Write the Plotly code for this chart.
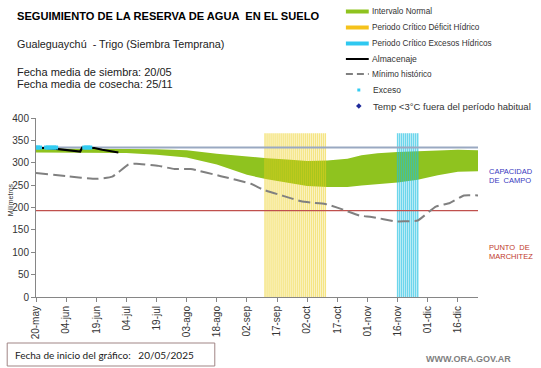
import datetime as dt
import plotly.graph_objects as go

# ---------------- data ----------------
START_DATE = "2025-05-20"
END_DAY = 220  # axis end, days after start

TICK_LABELS = ["20-may", "04-jun", "19-jun", "04-jul", "19-jul", "03-ago", "18-ago",
               "02-sep", "17-sep", "02-oct", "17-oct", "01-nov", "16-nov", "01-dic", "16-dic"]
TICK_DAYS = [0, 15, 30, 45, 60, 75, 90, 105, 120, 135, 150, 165, 180, 195, 210]

# Intervalo normal (green band)
BAND_DAYS = [0, 15, 30, 45, 60, 75, 90, 105, 115, 125, 135, 145, 155, 162, 170, 180, 190, 200, 210, 220]
BAND_TOP = [332, 332, 332, 331, 330, 328, 320, 313, 310, 307, 304, 305, 309, 317, 321, 324, 326, 328, 329, 328]
BAND_BOTTOM = [323, 323, 323, 322, 318, 312, 296, 273, 263, 256, 248, 246, 246, 249, 252, 256, 262, 272, 280, 281]

# Mínimo histórico
MIN_DAYS = [0, 15, 30, 38, 46, 50, 61, 69, 77, 92, 107, 113, 123, 132, 137, 144, 153, 161, 167, 179, 183, 190, 199, 206, 213, 220]
MIN_VALUES = [277, 270, 264, 269, 296, 298, 293, 286, 286, 270, 253, 240, 226, 214, 211, 208, 195, 182, 179, 169, 169, 171, 202, 210, 227, 227]

# Almacenaje
ALM_DAYS = [0, 5, 10, 15, 20, 22, 23, 25, 29, 33, 37, 41]
ALM_VALUES = [333, 333, 331, 329, 327, 325, 334, 334, 333, 329, 326, 323]

# Exceso points
EXC_DAYS = [0, 1, 2, 5, 6, 7, 8, 9, 10, 24, 25, 26, 27]
EXC_VALUES = [334, 334, 334, 334, 334, 334, 334, 334, 334, 334, 334, 334, 334]

# Critical periods (one stripe per day)
DEFICIT_DAYS = [114, 115, 116, 117, 118, 119, 120, 121, 122, 123, 124, 125, 126, 127, 128, 129,
                130, 131, 132, 133, 134, 135, 136, 137, 138, 139, 140, 141, 142, 143, 144]
EXCESS_DAYS = [180, 181, 182, 183, 184, 185, 186, 187, 188, 189, 190]
PERIOD_TOP = 366

CAPACIDAD = 334
MARCHITEZ = 193

# ---------------- helpers ----------------
start = dt.date.fromisoformat(START_DATE)


def to_dates(days):
    return [(start + dt.timedelta(days=d)).isoformat() for d in days]


def stripes(days, top):
    xs, ys = [], []
    for dd in to_dates(days):
        xs += [dd, dd, None]
        ys += [0, top, None]
    return xs, ys


FONT = "Liberation Sans, Arial, sans-serif"
W, H = 541, 368
ML, MR, MT, MB = 33, 63, 118, 71
X0, X1 = ML, W - MR
Y0, Y1 = MT, H - MB


def px(x):
    return (x - X0) / (X1 - X0)


def py(y):
    return (Y1 - y) / (Y1 - Y0)


fig = go.Figure()

# green band
fig.add_trace(go.Scatter(x=to_dates(BAND_DAYS), y=BAND_TOP, mode="lines",
                         line=dict(width=0, color="#8FC31F"), hoverinfo="skip"))
fig.add_trace(go.Scatter(x=to_dates(BAND_DAYS), y=BAND_BOTTOM, mode="lines",
                         line=dict(width=0, color="#8FC31F"), fill="tonexty",
                         fillcolor="#8FC31F", hoverinfo="skip"))

# critical period stripes
sx, sy = stripes(DEFICIT_DAYS, PERIOD_TOP)
fig.add_trace(go.Scatter(x=sx, y=sy, mode="lines", connectgaps=False,
                         line=dict(color="rgba(236,208,30,0.55)", width=1.5)))
sx, sy = stripes(EXCESS_DAYS, PERIOD_TOP)
fig.add_trace(go.Scatter(x=sx, y=sy, mode="lines", connectgaps=False,
                         line=dict(color="rgba(30,192,226,0.65)", width=1.5)))

# reference lines
axis_span = to_dates([0, END_DAY])
fig.add_trace(go.Scatter(x=axis_span, y=[CAPACIDAD, CAPACIDAD], mode="lines",
                         line=dict(color="#9AA9C2", width=2)))
fig.add_trace(go.Scatter(x=axis_span, y=[MARCHITEZ, MARCHITEZ], mode="lines",
                         line=dict(color="#C0504D", width=1.2)))

# mínimo histórico
fig.add_trace(go.Scatter(x=to_dates(MIN_DAYS), y=MIN_VALUES, mode="lines",
                         line=dict(color="#808080", width=2, dash="12px,5px", shape="spline",
                                   smoothing=0.4)))
# almacenaje
fig.add_trace(go.Scatter(x=to_dates(ALM_DAYS), y=ALM_VALUES, mode="lines",
                         line=dict(color="#000000", width=2.2)))
# exceso
fig.add_trace(go.Scatter(x=to_dates(EXC_DAYS), y=EXC_VALUES, mode="markers",
                         marker=dict(symbol="square", size=4, color="#33CCF2")))

# ---------------- layout ----------------
fig.update_layout(
    width=W, height=H,
    margin=dict(l=ML, r=MR, t=MT, b=MB),
    paper_bgcolor="white", plot_bgcolor="white",
    showlegend=False,
    font=dict(family=FONT, color="#333333", size=10),
)
fig.update_xaxes(
    type="date", range=to_dates([0, END_DAY]),
    tickvals=to_dates(TICK_DAYS), ticktext=TICK_LABELS, tickangle=-90,
    showgrid=False, zeroline=False, showline=True, linecolor="#868686", linewidth=1,
    ticks="outside", ticklen=4, tickcolor="#868686",
    tickfont=dict(size=10, color="#333333"),
)
fig.update_yaxes(
    range=[0, 400], tickvals=[0, 50, 100, 150, 200, 250, 300, 350, 400],
    showgrid=False, zeroline=False, showline=True, linecolor="#868686", linewidth=1,
    ticks="outside", ticklen=4, tickcolor="#868686",
    tickfont=dict(size=10, color="#333333"),
)

ann = []


def text(x, y, s, size, color="#333333", bold=False, xanchor="left", family=FONT, angle=0):
    ann.append(dict(x=px(x), y=py(y), xref="paper", yref="paper", text=("<b>%s</b>" % s) if bold else s,
                    showarrow=False, xanchor=xanchor, yanchor="middle", textangle=angle,
                    font=dict(size=size, color=color, family=family)))


text(12, 15.5, "SEGUIMIENTO DE LA RESERVA DE AGUA  EN EL SUELO", 11.1, color="#000000", bold=True)
text(12, 44, "Gualeguaychú  - Trigo (Siembra Temprana)", 10.8, color="#222222")
text(12, 72, "Fecha media de siembra: 20/05", 11, color="#222222")
text(12, 84, "Fecha media de cosecha: 25/11", 11, color="#222222")

text(7, 200, "Milímetros", 7, color="#333333", xanchor="center", angle=-90)

text(487, 171, "CAPACIDAD", 7.5, color="#3838C0")
text(487, 180, "DE  CAMPO", 7.5, color="#3838C0")
text(487, 247, "PUNTO  DE", 7.5, color="#C0392B")
text(487, 256, "MARCHITEZ", 7.5, color="#C0392B")

# legend
LEG_Y = [11.5, 27.5, 43.5, 59, 74, 90, 106]
LEG_TXT = ["Intervalo Normal", "Periodo Crítico Déficit Hídrico", "Periodo Crítico Excesos Hídricos",
           "Almacenaje", "Mínimo histórico", "Exceso", "Temp <3°C fuera del período habitual"]
LEG_SIZE = [8.2, 8.2, 8.2, 8.6, 8.2, 8.5, 9.5]
LEG_X = [369, 369, 369, 369, 369, 370, 370]
for yy, tt, ss, xx in zip(LEG_Y, LEG_TXT, LEG_SIZE, LEG_X):
    text(xx, yy, tt, ss, color="#333333")

shapes = []
for yy, col in zip(LEG_Y[:3], ["#8FC31F", "#F5C21B", "#2FC8F0"]):
    shapes.append(dict(type="rect", xref="paper", yref="paper", x0=px(345), x1=px(368),
                       y0=py(yy + 2), y1=py(yy - 2), fillcolor=col, line=dict(width=0)))
shapes.append(dict(type="line", xref="paper", yref="paper", x0=px(345), x1=px(368),
                   y0=py(LEG_Y[3]), y1=py(LEG_Y[3]), line=dict(color="#000000", width=2)))
shapes.append(dict(type="line", xref="paper", yref="paper", x0=px(345), x1=px(368),
                   y0=py(LEG_Y[4]), y1=py(LEG_Y[4]), line=dict(color="#808080", width=2, dash="7px,4px")))
shapes.append(dict(type="rect", xref="paper", yref="paper", x0=px(356.5), x1=px(359.5),
                   y0=py(LEG_Y[5] + 1.5), y1=py(LEG_Y[5] - 1.5), fillcolor="#33CCF2", line=dict(width=0)))
d = 2.8
shapes.append(dict(type="path", xref="paper", yref="paper",
                   path="M %f %f L %f %f L %f %f L %f %f Z" % (
                       px(358), py(LEG_Y[6] - d), px(358 + d), py(LEG_Y[6]),
                       px(358), py(LEG_Y[6] + d), px(358 - d), py(LEG_Y[6])),
                   fillcolor="#1F2A9A", line=dict(width=0)))

# footer box
shapes.append(dict(type="rect", xref="paper", yref="paper", x0=px(4), x1=px(213),
                   y0=py(366), y1=py(343), fillcolor="rgba(0,0,0,0)",
                   line=dict(color="#A08585", width=1)))
text(10, 354.5, "Fecha de inicio del gráfico:   20/05/2025", 10, color="#1a1a1a",
     family="Lato, Liberation Sans, sans-serif")
text(424, 359, "WWW.ORA.GOV.AR", 9, color="#7F7F7F", bold=True)

fig.update_layout(annotations=ann, shapes=shapes)
fig.write_html("out.html", config={"displayModeBar": False},
               post_script="document.body.style.margin='0';")
